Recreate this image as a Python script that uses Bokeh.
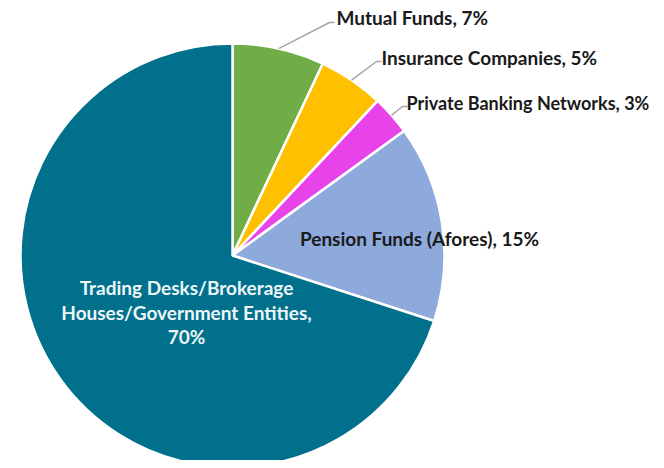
import math
from bokeh.plotting import figure
from bokeh.models import Range1d
from bokeh.core.properties import value
from bokeh.embed import file_html
from bokeh.resources import INLINE

# ---- data ----
categories = ["Mutual Funds", "Insurance Companies", "Private Banking Networks",
              "Pension Funds (Afores)", "Trading Desks/Brokerage Houses/Government Entities"]
shares = [7, 5, 3, 15, 70]
colors = ["#70AD47", "#FFC000", "#E743E8", "#8EA9DB", "#00708C"]

W, H = 656, 460
FONT = "Lato"
FS = "19px"
OFF = 1

def X(px):
    return px - OFF

def Y(py):
    return -(py - OFF)

p = figure(width=W, height=H, output_backend="svg", toolbar_location=None,
           x_range=Range1d(0, W), y_range=Range1d(-H, 0),
           x_axis_type=None, y_axis_type=None, min_border=0)
p.grid.visible = False
p.outline_line_color = None
p.background_fill_color = "white"

cx, cy, r = X(233), Y(256), 212
total = float(sum(shares))
starts, ends, mids = [], [], []
cum = 0.0
for v in shares:
    a0 = math.pi / 2 - 2 * math.pi * cum / total
    cum += v
    a1 = math.pi / 2 - 2 * math.pi * cum / total
    starts.append(a1)
    ends.append(a0)
    mids.append((a0 + a1) / 2)

p.wedge(x=[cx] * len(shares), y=[cy] * len(shares), radius=r,
        start_angle=starts, end_angle=ends, fill_color=colors,
        line_color="white", line_width=2.5)

# leader lines for the three small slices (elbow / text anchor positions)
elbows = [(330, 23), (377, 62), (403, 107)]
anchors = [(337, 18), (382, 58), (407, 103)]
sizes = [FS, FS, "18px"]
for i in range(3):
    sx = cx + r * math.cos(mids[i])
    sy = cy + r * math.sin(mids[i])
    ex, ey = X(elbows[i][0]), Y(elbows[i][1])
    p.line([sx, ex, ex + 5], [sy, ey, ey], line_color="#A6A6A6", line_width=1.5)
    p.text(x=[X(anchors[i][0])], y=[Y(anchors[i][1])],
           text=[f"{categories[i]}, {shares[i]}%"],
           text_font=value(FONT), text_font_style="bold", text_font_size=sizes[i],
           text_color="#1A1A1A", text_align="left", text_baseline="middle")

# Pension label inside
p.text(x=[X(420)], y=[Y(239)], text=[f"{categories[3]}, {shares[3]}%"],
       text_font=value(FONT), text_font_style="bold", text_font_size=FS,
       text_color="#1A1A1A", text_align="center", text_baseline="middle")

# Trading label inside (3 lines)
tl = ["Trading Desks/Brokerage", "Houses/Government Entities,", f"{shares[4]}%"]
p.text(x=[X(187)] * 3, y=[Y(288), Y(313), Y(337)], text=tl,
       text_font=value(FONT), text_font_style="bold", text_font_size=FS,
       text_color="#EEF6F8", text_align="center", text_baseline="middle")

open("out.html", "w").write(file_html(p, INLINE))
